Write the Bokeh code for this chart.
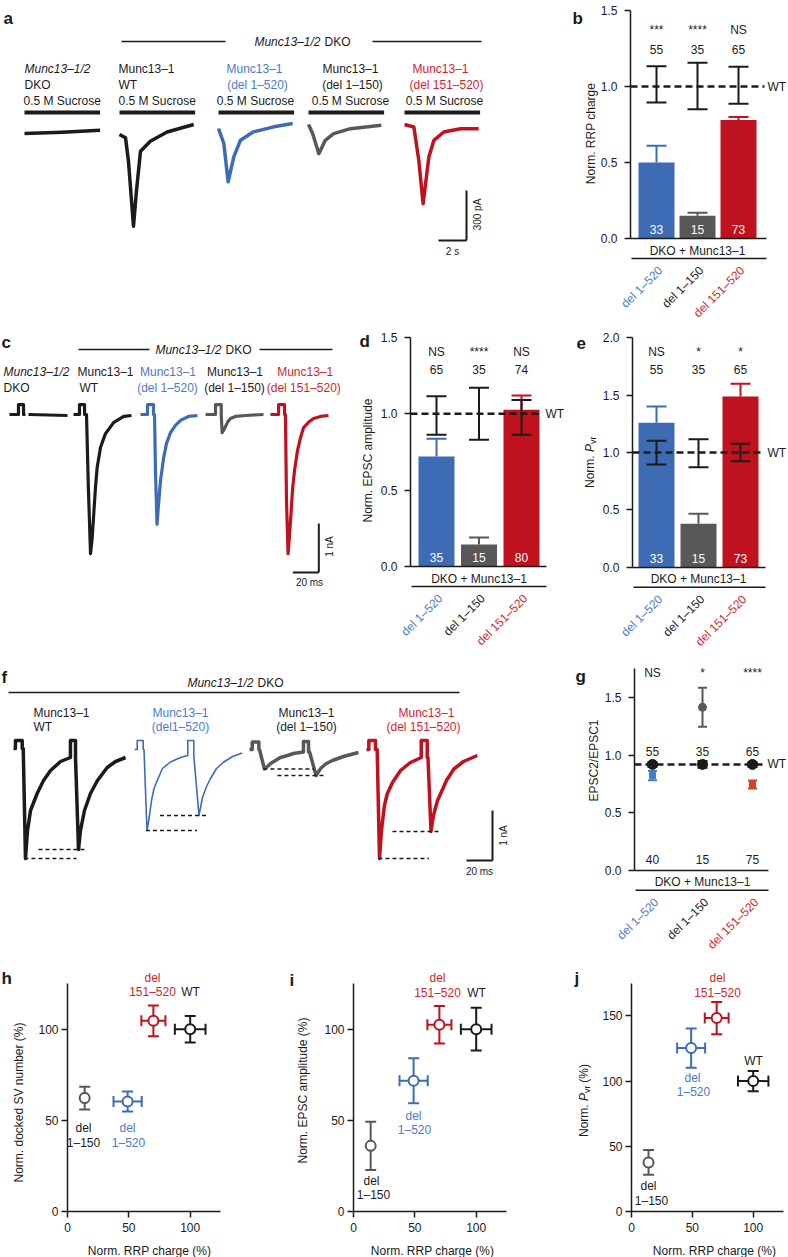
import numpy as np
from bokeh.plotting import figure
from bokeh.models import Range1d, FixedTicker, PrintfTickFormatter, Grid
from bokeh.layouts import column, row
from bokeh.core.properties import value
from bokeh.embed import file_html
from bokeh.resources import INLINE

FONT = "Liberation Sans"
INK = "#1b1b1b"
BLUE = "#3e6cb4"
BLUE_TXT = "#4c7bc5"
GRAY = "#585858"
RED = "#c0111f"
RED_TXT = "#cf1f2e"
G_BLUE = "#4a7cc8"
G_RED = "#d6402b"
BAR_COLORS = [BLUE, GRAY, RED]
LABEL_COLORS = [BLUE_TXT, INK, RED_TXT]
NAN = float("nan")

# ============================ DATA ============================
groups = ["del 1–520", "del 1–150", "del 151–520"]

# (a) 0.5 M sucrose responses: time (s) from trace start, current (pA) vs baseline
suc_dko_t = [0, 2.7, 5.4]
suc_dko_i = [0, 8, 20]
suc_wt_t = [0, 0.43, 0.64, 0.86, 1.0, 1.21, 1.5, 2.2, 3.4, 5.3]
suc_wt_i = [0, -20, -160, -400, -550, -340, -100, -40, 15, 60]
suc_d520_t = [0, 0.38, 0.69, 1.09, 1.57, 2.5, 3.95, 5.3]
suc_d520_i = [0, -90, -320, -170, -70, -20, 10, 30]
suc_d150_t = [0, 0.3, 0.74, 1.2, 1.8, 3.0, 5.2]
suc_d150_i = [0, -55, -175, -95, -55, -25, -5]
suc_d151_t = [0, 0.67, 1.02, 1.33, 1.74, 2.1, 2.8, 4.0, 5.3]
suc_d151_i = [0, -15, -215, -475, -195, -95, -45, -25, -25]
sucrose_dur = 5.4        # s
scale_a = (2, 300)       # s, pA

# (b) RRP charge
rrp_mean = [0.50, 0.15, 0.78]
rrp_sem = [0.11, 0.02, 0.02]
rrp_wt_lo = [0.895, 0.85, 0.886]
rrp_wt_hi = [1.133, 1.156, 1.13]
rrp_stars = ["***", "****", "NS"]
rrp_n_wt = ["55", "35", "65"]
rrp_n_mut = ["33", "15", "73"]

# (c) evoked EPSCs: time (ms), current (nA)
c_dko_t = [0, 6.9, 6.9, 10.8, 10.8, 12.3, NAN, 14.6, 44.6]
c_dko_i = [0, 0, 0.2, 0.2, 0, 0, NAN, 0, -0.02]
c_wt_t = [0, 4.6, 4.6, 8.5, 8.5, 10, 11.5, 13.1, 14.4, 15.6, 16.9, 18.2, 20.8, 24.6, 31, 38.7, 44.6]
c_wt_i = [0, 0, 0.2, 0.2, 0, 0, -1.55, -2.84, -2.51, -2.02, -1.49, -1.08, -0.67, -0.39, -0.16, -0.04, -0.02]
c_d520_t = [0, 5.4, 5.4, 10, 10, 10.8, 11.5, 12.7, 13.8, 15.4, 17.7, 20, 23.1, 26.9, 30.8, 36.9, 43.8]
c_d520_i = [0, 0, 0.2, 0.2, 0, 0, -1.14, -2.24, -1.86, -1.35, -0.9, -0.59, -0.37, -0.22, -0.12, -0.04, -0.02]
c_d150_t = [0, 7.7, 7.7, 12.1, 12.1, 12.8, 14.6, 16.9, 19.2, 23.1, 30.8, 44.6]
c_d150_i = [0, 0, 0.2, 0.2, 0, -0.37, -0.29, -0.16, -0.08, -0.04, -0.02, 0]
c_d151_t = [0, 6.2, 6.2, 10.8, 10.8, 11.5, 12.3, 13.5, 14.6, 15.8, 16.9, 18.5, 20.8, 23.1, 25.4, 29.2, 33.1, 38.5, 44.6]
c_d151_i = [0, 0, 0.2, 0.2, 0, 0, -1.76, -2.84, -2.47, -2.02, -1.55, -1.14, -0.73, -0.47, -0.27, -0.16, -0.08, -0.04, -0.02]
scale_c = (20, 1)        # ms, nA

# (d) EPSC amplitude
epsc_mean = [0.72, 0.144, 1.026]
epsc_sem = [0.116, 0.046, 0.094]
epsc_wt_lo = [0.862, 0.83, 0.862]
epsc_wt_hi = [1.115, 1.17, 1.09]
epsc_stars = ["NS", "****", "NS"]
epsc_n_wt = ["65", "35", "74"]
epsc_n_mut = ["35", "15", "80"]

# (e) vesicular release probability
pvr_mean = [1.259, 0.378, 1.488]
pvr_sem = [0.141, 0.087, 0.112]
pvr_wt_lo = [0.895, 0.872, 0.924]
pvr_wt_hi = [1.102, 1.116, 1.076]
pvr_stars = ["NS", "*", "*"]
pvr_n_wt = ["55", "35", "65"]
pvr_n_mut = ["33", "15", "73"]

# (f) paired-pulse traces: time (ms), current (nA)
f_wt_t = [0, 1.5, 1.5, 6.7, 6.7, 7.5, 9.2, 10.8, 13.1, 18.2, 23.1, 28.5, 36.2, 43.8, 43.8, 47.7, 47.7, 50, 51.5, 54.6, 59.2, 64.6, 72.1, 78.5, 86.2]
f_wt_i = [0, 0, 0.16, 0.16, 0, 0, -2.2, -1.64, -1.24, -0.9, -0.64, -0.44, -0.26, -0.18, 0.16, 0.16, -0.18, -2.02, -1.64, -1.24, -0.9, -0.64, -0.38, -0.26, -0.18]
f_d520_t = [0, 2.1, 2.1, 6.7, 6.7, 7.3, 9.6, 11.2, 13.1, 15, 17.5, 21.5, 27.7, 35.4, 41, 41, 45.6, 45.6, 49.6, 52.3, 55.4, 58.5, 63.1, 68.7, 75.4, 82.8]
f_d520_i = [0, 0, 0.18, 0.18, 0, 0, -1.62, -1.38, -1.02, -0.78, -0.62, -0.38, -0.25, -0.16, -0.12, 0.18, 0.18, -0.12, -1.32, -0.96, -0.74, -0.58, -0.38, -0.25, -0.14, -0.07]
f_d150_t = [0, 2.1, 2.1, 7.2, 7.2, 7.7, 11.5, 13.8, 16.2, 20, 23.8, 29.2, 33.8, 41.5, 41.5, 45.4, 45.4, 46.2, 51.2, 53.1, 55.4, 59.2, 63.8, 72.3, 83.8]
f_d150_i = [0, 0, 0.15, 0.15, 0, 0, -0.39, -0.34, -0.28, -0.22, -0.16, -0.12, -0.08, -0.05, 0.16, 0.16, -0.05, -0.05, -0.52, -0.44, -0.36, -0.28, -0.22, -0.14, -0.06]
f_d151_t = [0, 1.8, 1.8, 6.9, 6.9, 8.2, 10, 11.5, 13.8, 15.9, 20, 26.2, 33.8, 42.1, 42.1, 46.7, 46.7, 47.3, 49.6, 51.5, 54.6, 56.9, 61.5, 67.2, 74.6, 85.2]
f_d151_i = [0, 0, 0.18, 0.18, 0, 0, -2.18, -1.62, -1.12, -0.89, -0.66, -0.42, -0.26, -0.16, 0.18, 0.18, -0.16, -0.16, -1.64, -1.32, -1.02, -0.89, -0.62, -0.39, -0.24, -0.12]
scale_f = (20, 1)        # ms, nA

# (g) paired-pulse ratio
ppr_wt = [0.92, 0.92, 0.92]
ppr_wt_sem = [0.02, 0.03, 0.02]
ppr_mut = [0.823, 1.417, 0.745]
ppr_mut_sem = [0.04, 0.17, 0.035]
ppr_stars = ["NS", "*", "****"]
ppr_n_wt = ["55", "35", "65"]
ppr_n_mut = ["40", "15", "75"]

# (h-j) correlations, order: WT, del 151-520, del 1-150, del 1-520
corr_colors = [INK, RED, GRAY, BLUE]
rrp_pct = [100, 70, 14, 49]
rrp_pct_err = [12.5, 9.8, 1.5, 11.5]
docked_pct = [100, 104.6, 62.2, 60.3]
docked_pct_err = [7.3, 8.4, 6.2, 5.5]
epsc_pct = [100, 102.4, 36, 71.7]
epsc_pct_err = [11.7, 10.3, 13.2, 12.3]
pvr_pct = [100, 148.3, 37.6, 125.3]
pvr_pct_err = [7.7, 12.4, 9.5, 15]


# ============================ HELPERS ============================
class Panel:
    """Figure whose frame fills it; data coords map to reference pixels:
    X = x0 + v*kx, Y = y0 - v*ky.  (ox, oy) = reference px of its top-left corner."""
    def __init__(self, W, H, ox, oy, x0, kx, y0, ky, xaxis=False, yaxis=False):
        self.ox, self.oy, self.x0, self.kx, self.y0, self.ky = ox, oy, x0, kx, y0, ky
        self.p = figure(width=W, height=H,
                        x_range=Range1d(self.dx(ox), self.dx(ox + W)),
                        y_range=Range1d(self.dy(oy + H), self.dy(oy)),
                        output_backend="svg", toolbar_location=None, tools="",
                        x_axis_location="below" if xaxis else None,
                        y_axis_location="left" if yaxis else None,
                        min_border_left=0, min_border_right=0,
                        min_border_top=0, min_border_bottom=0)
        p = self.p
        p.outline_line_color = None
        p.background_fill_color = "white"
        p.border_fill_color = "white"
        for r in p.center:
            if isinstance(r, Grid):
                r.visible = False

    def dx(self, X): return (X - self.x0) / self.kx
    def dy(self, Y): return (self.y0 - Y) / self.ky
    def X(self, v): return self.x0 + v * self.kx
    def Y(self, v): return self.y0 - v * self.ky

    def text(self, X, Y, s, color=INK, size=12, align="center", base="middle", style="normal", angle=0.0):
        self.p.text(x=[self.dx(X)], y=[self.dy(Y)], text=[s], text_color=color,
                    text_font=value(FONT), text_font_size=f"{size}px", text_align=align,
                    text_baseline=base, text_font_style=style, angle=angle)

    def texts(self, xs, Y, strings, color=INK, size=12):
        self.p.text(x=xs, y=[self.dy(Y)] * len(xs), text=strings, text_color=color,
                    text_font=value(FONT), text_font_size=f"{size}px", text_align="center",
                    text_baseline="middle")

    def letter(self, X, Y, s):
        self.text(X, Y, s, size=17, align="left", base="alphabetic", style="bold")

    def vlabel(self, X, Y, s, **kw):
        self.text(X, Y, s, angle=np.pi / 2, **kw)

    def hline(self, X1, X2, Y, width=1.3, color=INK):
        self.p.line([self.dx(X1), self.dx(X2)], [self.dy(Y)] * 2, line_color=color, line_width=width)


def style_axis(ax, ticks, fmt, standoff):
    ax.ticker = FixedTicker(ticks=ticks)
    ax.formatter = PrintfTickFormatter(format=fmt)
    ax.minor_tick_line_color = None
    ax.major_tick_in = 0
    ax.major_tick_out = 6
    ax.major_tick_line_width = 1.5
    ax.major_tick_line_color = INK
    ax.axis_line_width = 1.5
    ax.axis_line_color = INK
    ax.major_label_text_font = FONT
    ax.major_label_text_font_size = "12px"
    ax.major_label_text_color = INK
    ax.major_label_standoff = standoff


def base_axis(P, axis_X, end_X):
    ax = P.p.xaxis[0]
    ax.fixed_location = 0
    ax.ticker = FixedTicker(ticks=[])
    ax.major_label_text_font_size = "0px"
    ax.major_tick_line_color = None
    ax.minor_tick_line_color = None
    ax.axis_line_width = 1.5
    ax.axis_line_color = INK
    ax.bounds = (P.dx(axis_X), P.dx(end_X))


def footer(P, axis0_Y, axis_X, end_X):
    P.text(P.X(1), axis0_Y + 12, "DKO + Munc13–1")
    P.p.line([P.dx(axis_X + 1), P.dx(end_X)], [P.dy(axis0_Y + 20)] * 2, line_color=INK, line_width=1.5)
    for i, (g, c) in enumerate(zip(groups, LABEL_COLORS)):
        P.text(P.X(i) + 4, axis0_Y + 30, g, color=c, align="right", angle=np.pi / 4)


def errbars(P, xs, lo, hi, colors, cap_px=20, lw=2, caps=("hi",)):
    p = P.p
    hw = cap_px / 2 / P.kx
    p.segment(x0=xs, y0=lo, x1=xs, y1=hi, line_color=colors, line_width=lw)
    if "hi" in caps:
        p.segment(x0=[x - hw for x in xs], y0=hi, x1=[x + hw for x in xs], y1=hi, line_color=colors, line_width=lw)
    if "lo" in caps:
        p.segment(x0=[x - hw for x in xs], y0=lo, x1=[x + hw for x in xs], y1=lo, line_color=colors, line_width=lw)


def bar_chart(P, means, sems, wt_lo, wt_hi, stars, n_wt, n_mut, ticks, ymax, axis_X, axis0_Y, end_X,
              star_Y, n_Y, wt_X):
    p = P.p
    xs = [0, 1, 2]
    style_axis(p.yaxis[0], ticks, "%.1f", 7)
    p.yaxis[0].bounds = (0, ymax)
    p.yaxis[0].fixed_location = P.dx(axis_X)
    base_axis(P, axis_X, end_X)
    p.vbar(x=xs, top=means, bottom=0, width=36 / P.kx, fill_color=BAR_COLORS, line_color=None)
    tops = [m + s for m, s in zip(means, sems)]
    errbars(P, xs, means, tops, BAR_COLORS)
    p.line([P.dx(axis_X), P.dx(wt_X - 3)], [1.0, 1.0], line_color=INK, line_width=2.5, line_dash="7 4")
    errbars(P, xs, wt_lo, wt_hi, INK, caps=("hi", "lo"))
    P.text(wt_X, P.Y(1.0), "WT", align="left")
    P.texts(xs, star_Y, stars)
    P.texts(xs, n_Y, n_wt)
    P.texts(xs, axis0_Y - 9, n_mut, color="white")
    footer(P, axis0_Y, axis_X, end_X)


def trace(P, X0, Yb, t, i, color, lw=3.5):
    P.p.line(P.dx(X0) + np.asarray(t, float), P.dy(Yb) + np.asarray(i, float),
             line_color=color, line_width=lw, line_join="round")


def header(P, split_X, Y):
    P.text(split_X, Y, "Munc13–1/2", style="italic", align="right")
    P.text(split_X + 4, Y, "DKO", align="left")


def pvr_label(P, Xc, Yc, suffix=""):
    w_norm, w_p, w_sub = 36.0, 8.0, 7.0
    w_suf = 22.0 if suffix else 0.0
    Ys = Yc + (w_norm + w_p + w_sub + w_suf) / 2
    P.vlabel(Xc, Ys, "Norm.", align="left")
    P.vlabel(Xc, Ys - w_norm, "P", style="italic", align="left")
    P.vlabel(Xc + 3, Ys - w_norm - w_p, "vr", size=9, align="left")
    if suffix:
        P.vlabel(Xc, Ys - w_norm - w_p - w_sub - 3.3, suffix, align="left")


def scatter_panel(P, xv, xe, yv, ye, yticks, ymax):
    p = P.p
    style_axis(p.xaxis[0], [0, 50, 100], "%d", 5)
    style_axis(p.yaxis[0], yticks, "%d", 3)
    p.xaxis[0].bounds = (0, 125)
    p.yaxis[0].bounds = (0, ymax)
    p.xaxis[0].fixed_location = 0
    p.yaxis[0].fixed_location = 0
    cy = 5.5 / P.ky
    cx = 5.5 / P.kx
    xl = [x - e for x, e in zip(xv, xe)]
    xh = [x + e for x, e in zip(xv, xe)]
    yl = [y - e for y, e in zip(yv, ye)]
    yh = [y + e for y, e in zip(yv, ye)]
    kw = dict(line_color=corr_colors, line_width=2)
    p.segment(x0=xl, y0=yv, x1=xh, y1=yv, **kw)
    p.segment(x0=xl, y0=[y - cy for y in yv], x1=xl, y1=[y + cy for y in yv], **kw)
    p.segment(x0=xh, y0=[y - cy for y in yv], x1=xh, y1=[y + cy for y in yv], **kw)
    p.segment(x0=xv, y0=yl, x1=xv, y1=yh, **kw)
    p.segment(x0=[x - cx for x in xv], y0=yl, x1=[x + cx for x in xv], y1=yl, **kw)
    p.segment(x0=[x - cx for x in xv], y0=yh, x1=[x + cx for x in xv], y1=yh, **kw)
    p.scatter(xv, yv, marker="circle", size=10, fill_color="white", line_color=corr_colors, line_width=2)


# ============================ ROW 1 (ref y 0..323) ============================
R1, R2, R3 = 323, 651, 954
A = Panel(520, R1, 0, 0, 0, 14.0, 0, 1 / 6)
A.letter(3, 18, "a")
header(A, 320, 41)
A.hline(121, 225, 41)
A.hline(372, 481, 41)
a_traces = [(24, 133, suc_dko_t, suc_dko_i, INK), (119, 134, suc_wt_t, suc_wt_i, INK),
            (218, 128, suc_d520_t, suc_d520_i, BLUE), (308, 124, suc_d150_t, suc_d150_i, GRAY),
            (404, 124, suc_d151_t, suc_d151_i, RED)]
for X0, Yb, t, i, col in a_traces:
    trace(A, X0, Yb, t, i, col, lw=3.5)
    A.p.line([A.dx(X0), A.dx(X0) + sucrose_dur], [A.dy(112)] * 2, line_color=INK, line_width=4)
A.text(24, 68, "Munc13–1/2", style="italic", align="left")
A.text(24, 84, "DKO", align="left")
A.text(23, 100, "0.5 M Sucrose", align="left")
A.text(118, 68, "Munc13–1", align="left")
A.text(118, 84, "WT", align="left")
A.text(118, 100, "0.5 M Sucrose", align="left")
A.text(254, 68, "Munc13–1", color=BLUE_TXT)
A.text(257, 84, "(del 1–520)", color=BLUE_TXT)
A.text(255, 100, "0.5 M Sucrose")
A.text(350, 68, "Munc13–1")
A.text(352, 84, "(del 1–150)")
A.text(350, 100, "0.5 M Sucrose")
A.text(440, 68, "Munc13–1", color=RED_TXT)
A.text(446, 84, "(del 151–520)", color=RED_TXT)
A.text(444, 100, "0.5 M Sucrose")
sx, sy = A.dx(466), A.dy(240)
A.p.line([sx, sx], [sy, sy + scale_a[1]], line_color=INK, line_width=2)
A.p.line([sx - scale_a[0], sx], [sy, sy], line_color=INK, line_width=2)
A.vlabel(477, 214, "300 pA", size=10)
A.text(452, 251, "2 s", size=10)

B = Panel(268, R1, 520, 0, 656, 41.0, 238, 152.0, xaxis=True, yaxis=True)
B.letter(572, 18, "b")
B.vlabel(590, 133, "Norm. RRP charge")
bar_chart(B, rrp_mean, rrp_sem, rrp_wt_lo, rrp_wt_hi, rrp_stars, rrp_n_wt, rrp_n_mut,
          [0, 0.5, 1.0, 1.5], 1.5, 630, 238, 766, 29, 49, 767)

# ============================ ROW 2 (ref y 323..651) ============================
C = Panel(345, R2 - R1, 0, R1, 0, 1.3, R1, 49.0)
C.letter(1, 342, "c")
header(C, 221, 349)
C.hline(78, 149, 349)
C.hline(259, 332, 349)
C.text(3, 371, "Munc13–1/2", style="italic", align="left")
C.text(3, 387, "DKO", align="left")
C.text(77, 371, "Munc13–1", align="left")
C.text(79, 387, "WT", align="left")
C.text(167.5, 371, "Munc13–1", color=BLUE_TXT)
C.text(167, 387, "(del 1–520)", color=BLUE_TXT)
C.text(234.5, 371, "Munc13–1")
C.text(234, 387, "(del 1–150)")
C.text(304.7, 371, "Munc13–1", color=RED_TXT)
C.text(303.3, 387, "(del 151–520)", color=RED_TXT)
for X0, t, i, col in [(9, c_dko_t, c_dko_i, INK), (73, c_wt_t, c_wt_i, INK),
                      (140, c_d520_t, c_d520_i, BLUE), (205, c_d150_t, c_d150_i, GRAY),
                      (270, c_d151_t, c_d151_i, RED)]:
    trace(C, X0, 414, t, i, col, lw=3.2)
sx, sy = C.dx(318.3), C.dy(572)
C.p.line([sx, sx], [sy, sy + scale_c[1]], line_color=INK, line_width=2)
C.p.line([sx - scale_c[0], sx], [sy, sy], line_color=INK, line_width=2)
C.vlabel(328.5, 546, "1 nA", size=10)
C.text(309, 582, "20 ms", size=10)

D = Panel(225, R2 - R1, 345, R1, 436, 42.5, 566, 152.7, xaxis=True, yaxis=True)
D.letter(359, 341, "d")
D.vlabel(367, 460, "Norm. EPSC amplitude")
bar_chart(D, epsc_mean, epsc_sem, epsc_wt_lo, epsc_wt_hi, epsc_stars, epsc_n_wt, epsc_n_mut,
          [0, 0.5, 1.0, 1.5], 1.5, 410, 566, 546, 351, 369, 545)

E = Panel(218, R2 - R1, 570, R1, 656, 42.0, 566.7, 114.7, xaxis=True, yaxis=True)
E.letter(576, 342, "e")
pvr_label(E, 589, 462)
bar_chart(E, pvr_mean, pvr_sem, pvr_wt_lo, pvr_wt_hi, pvr_stars, pvr_n_wt, pvr_n_mut,
          [0, 0.5, 1.0, 1.5, 2.0], 2.0, 632, 566.7, 765, 351, 369, 767)

# ============================ ROW 3 (ref y 651..954) ============================
F = Panel(525, R3 - R2, 0, R2, 0, 1.3, R2, 50.0)
F.letter(1, 677, "f")
header(F, 253, 682)
F.hline(8, 459, 692)
F.text(33, 712, "Munc13–1", align="left")
F.text(33, 726, "WT", align="left")
F.text(180, 712, "Munc13–1", color=BLUE_TXT)
F.text(180, 726, "(del1–520)", color=BLUE_TXT)
F.text(306, 712, "Munc13–1")
F.text(306, 726, "(del 1–150)")
F.text(426, 712, "Munc13–1", color=RED_TXT)
F.text(423, 726, "(del 151–520)", color=RED_TXT)
for X0, Yb, t, i, col, lw in [(13, 748, f_wt_t, f_wt_i, INK, 3.5), (134, 749, f_d520_t, f_d520_i, BLUE, 1.6),
                              (249, 749, f_d150_t, f_d150_i, GRAY, 3.5), (366, 749, f_d151_t, f_d151_i, RED, 3.5)]:
    trace(F, X0, Yb, t, i, col, lw=lw)
    tt = np.asarray(t, float)
    ii = np.asarray(i, float)
    mid = (tt[0] + tt[-1]) / 2
    k1 = int(np.argmin(np.where(tt < mid, ii, np.inf)))
    k2 = int(np.argmin(np.where(tt >= mid, ii, np.inf)))
    bx, by = F.dx(X0), F.dy(Yb)
    F.p.line([bx + tt[k1] - 0.8, bx + tt[k2] - 1.5], [by + ii[k1]] * 2, line_color=INK, line_width=1.3, line_dash="4 3")
    F.p.line([bx + tt[k1] + 10, bx + tt[k2] + 6], [by + ii[k2]] * 2, line_color=INK, line_width=1.3, line_dash="4 3")
sx, sy = F.dx(492), F.dy(860)
F.p.line([sx, sx], [sy, sy + scale_f[1]], line_color=INK, line_width=2)
F.p.line([sx - scale_f[0], sx], [sy, sy], line_color=INK, line_width=2)
F.vlabel(503, 835, "1 nA", size=10)
F.text(479, 871, "20 ms", size=10)

G = Panel(263, R3 - R2, 525, R2, 652, 50.0, 869.7, 115.0, xaxis=True, yaxis=True)
G.letter(575, 676, "g")
G.vlabel(593, 760, "EPSC2/EPSC1")
style_axis(G.p.yaxis[0], [0, 0.5, 1.0, 1.5], "%.1f", 7)
G.p.yaxis[0].bounds = (0, 1.75)
G.p.yaxis[0].fixed_location = G.dx(634)
base_axis(G, 634, 768)
gx = [0, 1, 2]
wt_level = float(np.mean(ppr_wt))
G.p.line([G.dx(634), G.dx(764)], [wt_level] * 2, line_color=INK, line_width=2.5, line_dash="7 4")
errbars(G, gx, [m - s for m, s in zip(ppr_wt, ppr_wt_sem)], [m + s for m, s in zip(ppr_wt, ppr_wt_sem)],
        INK, cap_px=10, caps=("hi", "lo"))
G.p.scatter(gx, ppr_wt, marker="circle", size=10, fill_color=INK, line_color=INK)
mut_cols = [G_BLUE, GRAY, G_RED]
errbars(G, gx, [m - s for m, s in zip(ppr_mut, ppr_mut_sem)], [m + s for m, s in zip(ppr_mut, ppr_mut_sem)],
        mut_cols, cap_px=9, caps=("hi", "lo"))
G.p.scatter(gx, ppr_mut, marker=["square", "circle", "square"], size=[6, 8, 6],
            fill_color=mut_cols, line_color=mut_cols)
G.text(767, G.Y(wt_level), "WT", align="left")
G.texts(gx, 672, ppr_stars)
G.texts(gx, 751, ppr_n_wt)
G.texts(gx, 859, ppr_n_mut)
footer(G, 869.7, 634, 768)

# ============================ ROW 4 (ref y 954..1257) ============================
H4 = 1257 - R3
Hp = Panel(278, H4, 0, R3, 67, 1.227, 1211, 1.823, xaxis=True, yaxis=True)
Hp.letter(1, 978, "h")
scatter_panel(Hp, rrp_pct, rrp_pct_err, docked_pct, docked_pct_err, [0, 50, 100], 125)
Hp.vlabel(18, 1102, "Norm. docked SV number (%)")
Hp.text(149, 1250, "Norm. RRP charge (%)")
Hp.text(152, 977, "del", color=RED_TXT)
Hp.text(152, 991, "151–520", color=RED_TXT)
Hp.text(190, 991, "WT")
Hp.text(83, 1127, "del")
Hp.text(83, 1142, "1–150")
Hp.text(127, 1127, "del", color=BLUE_TXT)
Hp.text(128, 1142, "1–520", color=BLUE_TXT)

Ip = Panel(237, H4, 278, R3, 353, 1.227, 1211, 1.823, xaxis=True, yaxis=True)
Ip.letter(289, 980, "i")
scatter_panel(Ip, rrp_pct, rrp_pct_err, epsc_pct, epsc_pct_err, [0, 50, 100], 125)
Ip.vlabel(302, 1090, "Norm. EPSC amplitude (%)")
Ip.text(432, 1250, "Norm. RRP charge (%)")
Ip.text(437, 977, "del", color=RED_TXT)
Ip.text(437, 992, "151–520", color=RED_TXT)
Ip.text(476, 992, "WT")
Ip.text(413, 1115, "del", color=BLUE_TXT)
Ip.text(414, 1129, "1–520", color=BLUE_TXT)
Ip.text(371, 1180, "del")
Ip.text(373, 1194, "1–150")

Jp = Panel(273, H4, 515, R3, 631, 1.217, 1211, 1.304, xaxis=True, yaxis=True)
Jp.letter(574, 978, "j")
scatter_panel(Jp, rrp_pct, rrp_pct_err, pvr_pct, pvr_pct_err, [0, 50, 100, 150], 175)
pvr_label(Jp, 583, 1100, suffix="(%)")
Jp.text(714, 1250, "Norm. RRP charge (%)")
Jp.text(717, 977, "del", color=RED_TXT)
Jp.text(717, 992, "151–520", color=RED_TXT)
Jp.text(692, 1077, "del", color=BLUE_TXT)
Jp.text(693, 1091, "1–520", color=BLUE_TXT)
Jp.text(753, 1060, "WT")
Jp.text(648, 1185, "del")
Jp.text(651, 1200, "1–150")

layout = column(row(A.p, B.p), row(C.p, D.p, E.p), row(F.p, G.p), row(Hp.p, Ip.p, Jp.p))
open("out.html", "w").write(file_html(layout, INLINE))
